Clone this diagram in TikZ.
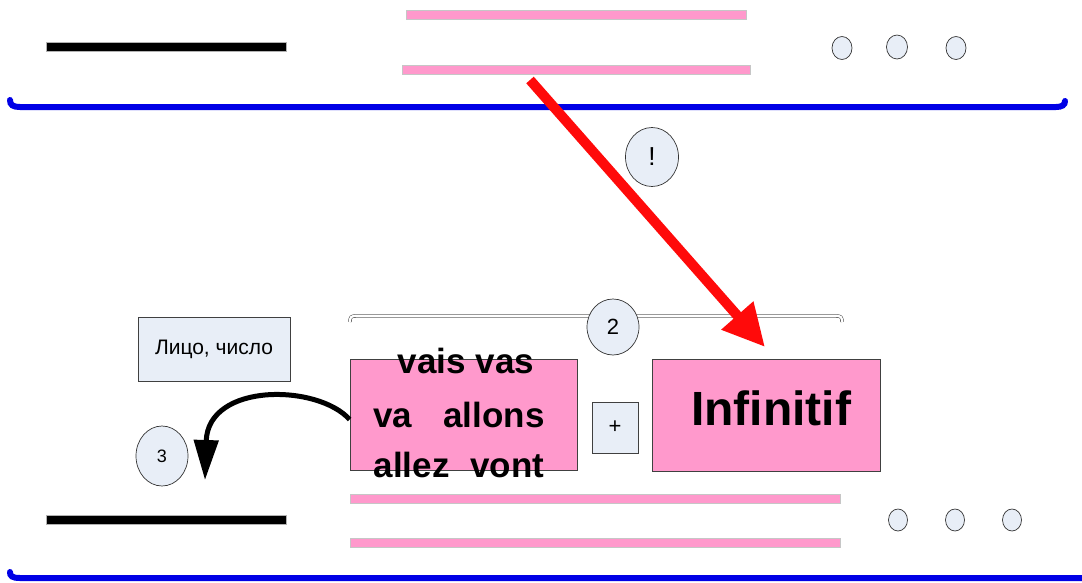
\documentclass[tikz,border=0pt]{standalone}
\usepackage{fontspec}
\usepackage{graphicx}
\setmainfont{Liberation Sans}
\usetikzlibrary{arrows.meta,shapes.geometric}
\definecolor{pinkf}{HTML}{FF99CC}
\definecolor{paleblue}{HTML}{E8EEF7}
\definecolor{lineblue}{HTML}{0000E6}
\definecolor{arrred}{HTML}{FF0A0A}
\tikzset{
  blackbar/.style={rectangle, fill=black, draw=gray!60, line width=0.4pt, inner sep=0pt, minimum height=9pt},
  pinkbar/.style={rectangle, fill=pinkf, draw=gray!45, line width=0.6pt, inner sep=0pt, minimum height=9pt},
  dot/.style={ellipse, draw=black!80, fill=paleblue, line width=0.7pt, inner sep=0pt},
  badge/.style={ellipse, draw=black!80, fill=paleblue, line width=0.7pt, inner sep=0pt},
  pinkbox/.style={rectangle, draw=black!75, fill=pinkf, line width=0.8pt, inner sep=0pt},
  infobox/.style={rectangle, draw=black!75, fill=paleblue, line width=0.8pt, inner sep=0pt},
  bluerule/.style={draw=lineblue, line width=6pt, line cap=round},
  bracket/.style={draw=gray!60!black, double=white, double distance=2.2pt, line width=0.6pt},
  bigtext/.style={font=\bfseries\fontsize{35}{35}\selectfont, inner sep=0pt, anchor=base},
  redarrow/.style={draw=arrred, line width=10pt, -{Triangle[length=42pt,width=40pt]}},
  blackarrow/.style={draw=black, line width=5pt, -{Triangle[length=40pt,width=24pt]}}
}
\begin{document}
\begin{tikzpicture}[x=1pt,y=-1pt]
\useasboundingbox (0,0) rectangle (1082,582);

% top row
\node[blackbar, minimum width=240pt] (bar1) at (166,46.5) {};
\node[pinkbar, minimum width=340pt] (pb1) at (576,14.5) {};
\node[pinkbar, minimum width=348pt] (pb2) at (576,69.5) {};
\node[dot, minimum width=20pt, minimum height=23pt] (d1) at (842,48) {};
\node[dot, minimum width=21pt, minimum height=24pt] (d2) at (897,47) {};
\node[dot, minimum width=20pt, minimum height=23pt] (d3) at (956,48) {};
\draw[bluerule] (10,100) .. controls (10,105) and (13,107) .. (20,107) -- (1056,107) .. controls (1062,107) and (1065,105) .. (1065,101);

% badge !
\node[badge, minimum width=53pt, minimum height=59pt, font=\fontsize{26}{26}\selectfont] (bang) at (652,157) {!};

% bracket and badge 2
\draw[bracket] (350,322) .. controls (350,317) and (351,316) .. (356,316) -- (836,316) .. controls (841,316) and (842,317) .. (842,322);
\node[badge, minimum width=52pt, minimum height=56pt, font=\fontsize{22}{22}\selectfont] (two) at (613,327) {2};

% middle row
\node[infobox, minimum width=152pt, minimum height=64pt, font=\fontsize{21}{21}\selectfont] (lico) at (214,349) {Лицо, число};
\node[pinkbox, minimum width=227pt, minimum height=111pt] (lbox) at (463.5,414.5) {};
\node[bigtext] (vl1) at (466,373) {vais vas};
\node[bigtext] (vl2) at (459,427) {va\hspace{31pt}allons};
\node[bigtext] (vl3) at (459,477) {allez\hspace{21pt}vont};
\node[infobox, minimum width=46pt, minimum height=51pt, font=\fontsize{22}{22}\selectfont] (plus) at (615,427.5) {+};
\node[pinkbox, minimum width=228pt, minimum height=112pt] (rbox) at (766,415) {};
\node[font=\bfseries\fontsize{48}{48}\selectfont, inner sep=0pt, anchor=base] (inf) at (771,425) {Infinitif};

% red arrow
\coordinate (rs) at (530,80);
\coordinate (rt) at (765,347);
\draw[redarrow] (rs) -- (rt);

% black curved arrow
\coordinate (ae) at (205,480);
\draw[blackarrow] ([yshift=-5pt]lbox.west) .. controls (318,384) and (208,382) .. (ae);
\node[badge, minimum width=52pt, minimum height=60pt, font=\fontsize{18}{18}\selectfont] (three) at (162,456) {3};

% bottom row
\node[blackbar, minimum width=240pt] (bar2) at (166,519.5) {};
\node[pinkbar, minimum width=490pt] (pb3) at (595,498.5) {};
\node[pinkbar, minimum width=490pt] (pb4) at (595,542.5) {};
\node[dot, minimum width=19pt, minimum height=22pt] (d4) at (898,520) {};
\node[dot, minimum width=19pt, minimum height=22pt] (d5) at (955,520) {};
\node[dot, minimum width=19pt, minimum height=22pt] (d6) at (1012,520) {};
\draw[bluerule] (10,572) .. controls (10,576) and (12,578) .. (20,578) -- (1095,578);
\end{tikzpicture}
\end{document}
